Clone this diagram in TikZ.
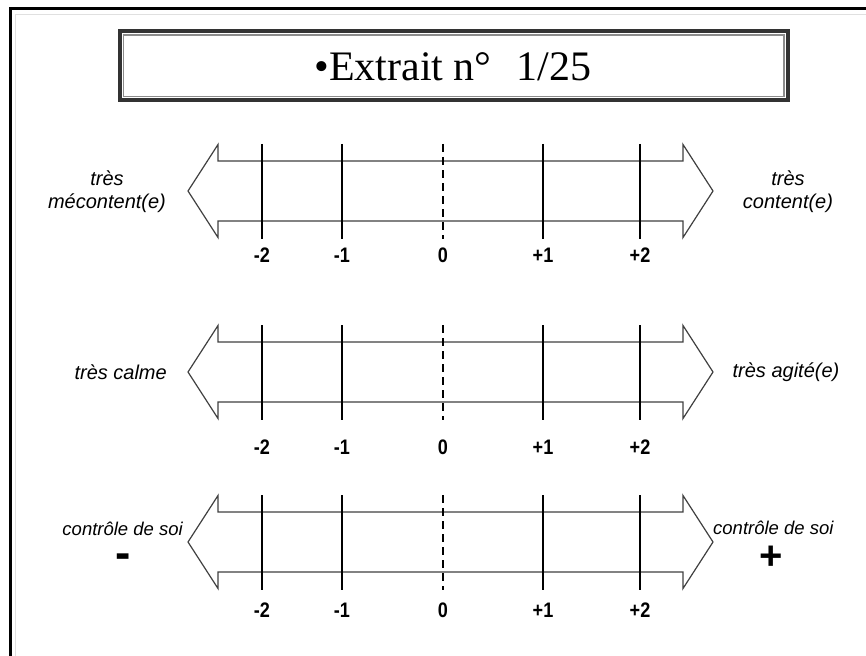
\documentclass[tikz,border=0pt]{standalone}
\usepackage{fontspec}
\setmainfont{Liberation Serif}
\newfontfamily\arial{Liberation Sans}
\begin{document}
\begin{tikzpicture}[x=1pt,y=-1pt,
    etiq/.style={font=\arial\itshape\fontsize{20}{23}\selectfont,align=center,inner sep=0pt},
    petit/.style={font=\arial\itshape\fontsize{18.5}{22}\selectfont,inner sep=0pt},
    signe/.style={font=\arial\bfseries\fontsize{40}{44}\selectfont,inner sep=0pt,anchor=base},
    graduation/.style={font=\arial\bfseries\fontsize{21}{24}\selectfont,xscale=0.86,inner sep=0pt},
    trait/.style={line width=2.5pt},
    fleche/.style={draw=black!75,line width=1.2pt,fill=white}]
    \useasboundingbox (0,0) rectangle (866,655);

    %%%%%%% Cadre %%%%%%%
    \draw[line width=3pt] (10,680) |- (880,9);
    \draw[black!12,line width=1.5pt] (15.5,680) |- (880,14.5);

    %%%%%%% Titre %%%%%%%
    \draw[black!80,line width=4pt] (120,31) rectangle (788,100);
    \draw[black!45,line width=1.2pt] (123.5,35) rectangle (784,96.5);
    \node (titre) at (453,67) {\fontsize{42}{48}\selectfont •Extrait n°\hspace{0.6em}1/25};

    %%%%%%% Echelles %%%%%%%
    \foreach \y/\yl/\n in {191/255/a,372/447/b,542/610/c} {
        \draw[fleche] (188,\y) -- ++(30,-46.5) -- ++(0,16.5) -- (683,\y-30)
            -- ++(0,-16.5) -- (713,\y) -- ++(-30,46.5) -- ++(0,-16.5)
            -- (218,\y+30) -- ++(0,16.5) -- cycle;
        \foreach \x/\v in {262/-2,342/-1,543/+1,640/+2} {
            \draw[trait] (\x,\y-47) -- (\x,\y+48);
            \node[graduation] (g\n\x) at (\x,\yl) {\v};
        }
        \draw[line width=2pt,dash pattern=on 8pt off 5pt] (443,\y-47) -- (443,\y+48);
        \node[graduation] (z\n) at (443,\yl) {0};
    }

    %%%%%%% Etiquettes %%%%%%%
    \node[etiq] (mecontent) at (107,192) {très\\mécontent(e)};
    \node[etiq] (content) at (788,192) {très\\content(e)};
    \node[etiq,anchor=east] (calme) at (167,372) {très calme};
    \node[etiq] (agite) at (786,372) {très agité(e)};
    \node[petit,anchor=east] (soimoins) at (183,529) {contrôle de soi};
    \node[petit,anchor=west] (soiplus) at (713,528) {contrôle de soi};
    \node[signe,font=\arial\bfseries\fontsize{46}{50}\selectfont] (moins) at (123,568) {-};
    \node[signe] (plus) at (771,569) {+};
\end{tikzpicture}
\end{document}
